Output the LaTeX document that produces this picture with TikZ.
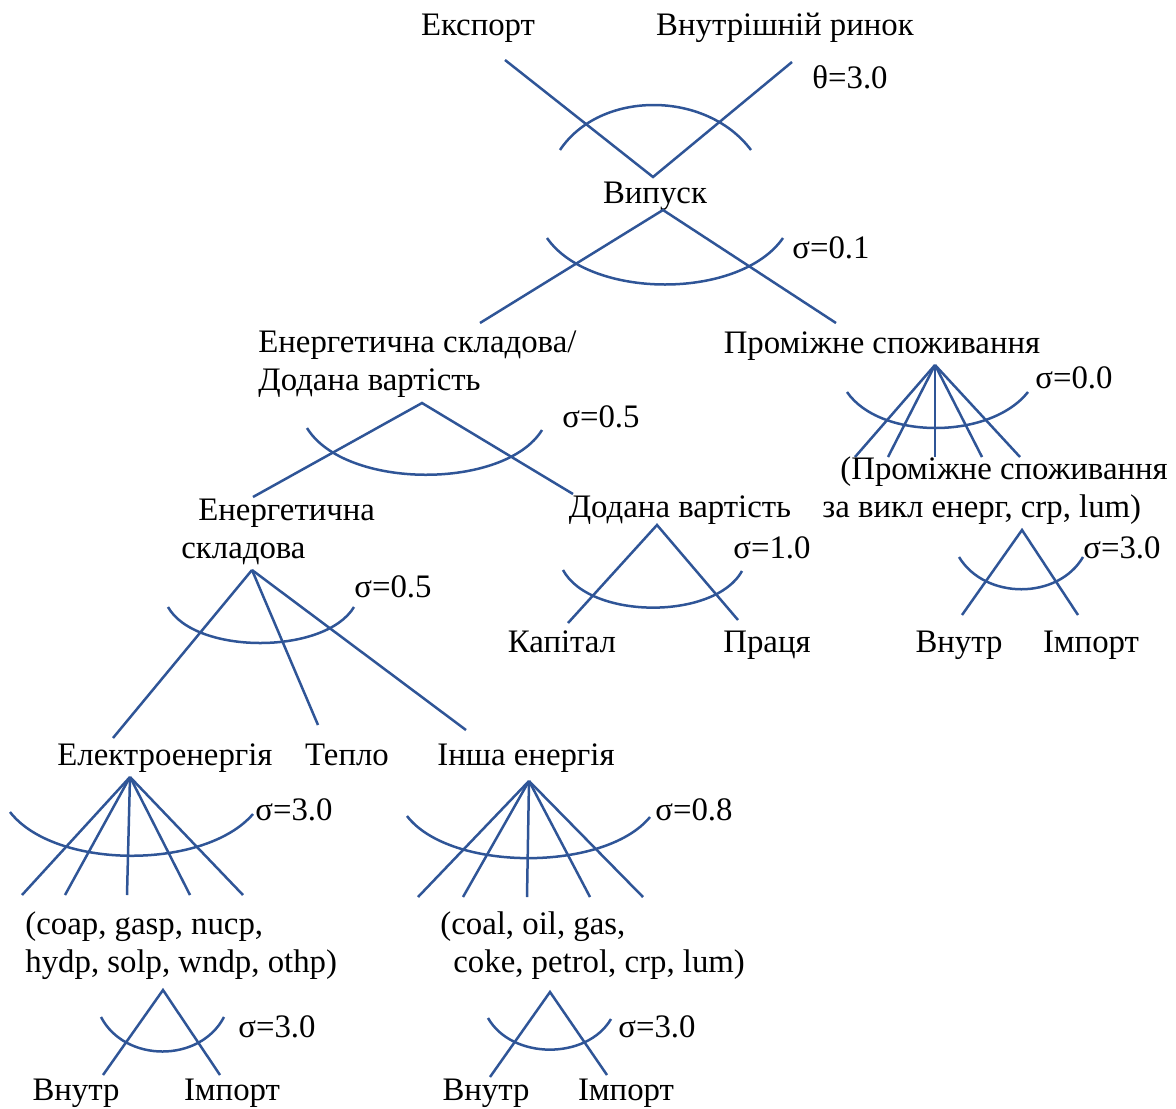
\documentclass[tikz,border=0pt]{standalone}
\usepackage{fontspec}
\setmainfont{Liberation Serif}
\usetikzlibrary{positioning,calc}
\definecolor{nestblue}{HTML}{2F5597}

\begin{document}
\begin{tikzpicture}[
  x=0.5pt, y=-0.5pt,
  every node/.style={font=\fontsize{16.4}{19}\selectfont, inner sep=0pt},
  lbl/.style={anchor=base},
  multi/.style={anchor=base west, align=left},
  sig/.style={anchor=base west},
  br/.style={line width=1.25pt, nestblue},
  nest/.style={line width=1.25pt, nestblue},
]
\useasboundingbox (0,0) rectangle (1176,1108);

% ── Top nest: Експорт / Внутрішній ринок ──
\node[lbl] (exp) at (478,35) {Експорт};
\node[lbl] (dom) at (785,35) {Внутрішній ринок};
\node[sig] (theta) at (812,88) {θ=3.0};
\coordinate (vOut) at (653,177);
\coordinate (eExp) at (505,60);
\coordinate (eDom) at (792,62);
\draw[br] (eExp) -- (vOut) -- (eDom);
\draw[nest] (560,150) .. controls (600,90) and (706,90) .. (751,150);

% ── Випуск ──
\node[lbl] (out) at (655,203) {Випуск};
\coordinate (vTop) at (663,210);
\coordinate (eEv) at (480,323);
\coordinate (eInt) at (836,323);
\draw[br] (eEv) -- (vTop) -- (eInt);
\draw[nest] (547,238) .. controls (590,300) and (740,300) .. (783,238);
\node[sig] (s1) at (792,258) {σ=0.1};

% ── Енергетична складова/Додана вартість ──
\node[multi] (evsplit) at (258,390) {Енергетична складова/\\Додана вартість};
\coordinate (vEv) at (422,403);
\coordinate (eEns) at (253,497);
\coordinate (eVa) at (573,494);
\draw[br] (eEns) -- (vEv) -- (eVa);
\draw[nest] (307,428) .. controls (345,490) and (505,490) .. (542,430);
\node[sig] (s2) at (562,427) {σ=0.5};

% ── Проміжне споживання ──
\node[lbl] (interm) at (882,353) {Проміжне споживання};
\coordinate (vInt) at (935,365);
\foreach \x [count=\i] in {855,888,935,982,1020} {
  \coordinate (eI\i) at (\x,457);
  \draw[br] (vInt) -- (eI\i);
}
\draw[nest] (847,392) .. controls (880,440) and (990,440) .. (1028,392);
\node[sig] (s3) at (1035,388) {σ=0.0};
\node[multi] (intx) at (822,517) {\hspace*{9pt}(Проміжне споживання\\за викл енерг, crp, lum)};

\coordinate (vIntx) at (1022,530);
\coordinate (eIdom) at (962,615);
\coordinate (eIimp) at (1078,615);
\draw[br] (eIdom) -- (vIntx) -- (eIimp);
\draw[nest] (959,557) .. controls (985,600) and (1058,600) .. (1083,557);
\node[sig] (s4) at (1083,558) {σ=3.0};
\node[lbl] (idom) at (959,652) {Внутр};
\node[lbl] (iimp) at (1091,652) {Імпорт};

% ── Додана вартість ──
\node[lbl] (va) at (680,517) {Додана вартість};
\coordinate (vVa) at (657,525);
\coordinate (eCap) at (568,623);
\coordinate (eLab) at (738,620);
\draw[br] (eCap) -- (vVa) -- (eLab);
\draw[nest] (563,570) .. controls (590,620) and (715,620) .. (742,571);
\node[sig] (s5) at (733,558) {σ=1.0};
\node[lbl] (cap) at (562,652) {Капітал};
\node[lbl] (lab) at (767,652) {Праця};

% ── Енергетична складова ──
\node[multi] (ens) at (181,558) {\hspace*{8.5pt}Енергетична\\складова};
\coordinate (vEns) at (252,570);
\coordinate (eElec) at (113,738);
\coordinate (eHeat) at (318,725);
\coordinate (eOth) at (466,730);
\draw[br] (vEns) -- (eElec);
\draw[br] (vEns) -- (eHeat);
\draw[br] (vEns) -- (eOth);
\draw[nest] (168,607) .. controls (195,655) and (325,655) .. (354,607);
\node[sig] (s6) at (354,597) {σ=0.5};

\node[lbl] (elec) at (165,765) {Електроенергія};
\node[lbl] (heat) at (347,765) {Тепло};
\node[lbl] (oth) at (526,765) {Інша енергія};

% ── Електроенергія ──
\coordinate (vElec) at (130,777);
\foreach \x [count=\i] in {22,65,127,190,243} {
  \coordinate (eE\i) at (\x,895);
  \draw[br] (vElec) -- (eE\i);
}
\draw[nest] (10,812) .. controls (55,870) and (205,870) .. (253,814);
\node[sig] (s7) at (255,820) {σ=3.0};
\node[multi] (etech) at (25,972) {(coap, gasp, nucp,\\hydp, solp, wndp, othp)};

\coordinate (vEt) at (163,990);
\coordinate (eEdom) at (103,1075);
\coordinate (eEimp) at (220,1075);
\draw[br] (eEdom) -- (vEt) -- (eEimp);
\draw[nest] (101,1017) .. controls (125,1063) and (200,1063) .. (224,1017);
\node[sig] (s8) at (238,1037) {σ=3.0};
\node[lbl] (edom) at (76,1100) {Внутр};
\node[lbl] (eimp) at (232,1100) {Імпорт};

% ── Інша енергія ──
\coordinate (vOth) at (529,781);
\foreach \x [count=\i] in {418,463,527,590,643} {
  \coordinate (eO\i) at (\x,897);
  \draw[br] (vOth) -- (eO\i);
}
\draw[nest] (407,816) .. controls (450,872) and (605,872) .. (650,817);
\node[sig] (s9) at (655,820) {σ=0.8};
\node[multi] (otech) at (440,972) {(coal, oil, gas,\\\hspace*{6.5pt}coke, petrol, crp, lum)};

\coordinate (vOt) at (550,992);
\coordinate (eOdom) at (490,1077);
\coordinate (eOimp) at (607,1075);
\draw[br] (eOdom) -- (vOt) -- (eOimp);
\draw[nest] (488,1018) .. controls (512,1060) and (587,1060) .. (611,1019);
\node[sig] (s10) at (618,1037) {σ=3.0};
\node[lbl] (odom) at (486,1100) {Внутр};
\node[lbl] (oimp) at (626,1100) {Імпорт};

\end{tikzpicture}
\end{document}
